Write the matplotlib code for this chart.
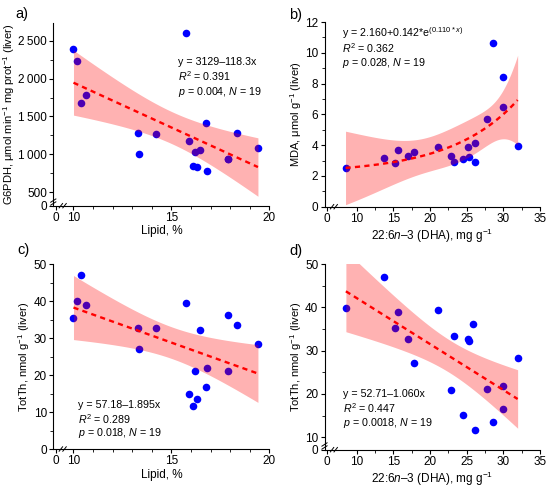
import numpy as np
import matplotlib
matplotlib.use('Agg')
import matplotlib.pyplot as plt
from matplotlib.ticker import FixedLocator

plt.rcParams['font.family'] = ['Liberation Sans', 'DejaVu Sans']
plt.rcParams['mathtext.fontset'] = 'custom'
plt.rcParams['mathtext.rm'] = 'Liberation Sans'
plt.rcParams['mathtext.it'] = 'Liberation Sans:italic'
plt.rcParams['mathtext.bf'] = 'Liberation Sans:bold'
plt.rcParams['axes.linewidth'] = 0.8

# ---------------- data ----------------
# panel a: G6PDH vs lipid
lipid_a = [10.0, 10.17, 10.37, 10.66, 13.31, 13.33, 14.22, 15.73, 15.87, 16.12,
           16.2, 16.32, 16.45, 16.74, 16.79, 17.86, 17.9, 18.33, 19.41]
g6pdh = [2390, 2232, 1674, 1784, 1278, 1001, 1269, 2601, 1173, 847,
         1028, 830, 1058, 1414, 781, 940, 940, 1278, 1085]
# panel b: MDA vs DHA
dha_b = [8.45, 13.64, 15.14, 15.59, 16.95, 17.82, 21.14, 22.86, 23.32, 24.55,
         25.23, 25.36, 26.14, 26.14, 27.77, 28.64, 29.95, 29.95, 31.95]
mda = [2.53, 3.14, 2.84, 3.70, 3.27, 3.55, 3.90, 3.27, 2.88, 3.10,
       3.88, 3.25, 2.88, 4.16, 5.70, 10.61, 8.40, 6.48, 3.94]
# panel c: TotTh vs lipid
lipid_c = [10.0, 10.17, 10.37, 10.66, 13.31, 13.33, 14.22, 15.73, 15.87, 16.2,
           16.12, 16.32, 16.45, 16.74, 16.79, 17.86, 17.9, 18.33, 19.41]
totth_c = [35.3, 39.9, 46.9, 39.0, 32.7, 27.1, 32.7, 39.4, 15.0, 21.0,
           11.5, 13.5, 32.2, 16.7, 21.9, 21.1, 36.1, 33.4, 28.4]
# panel d: TotTh vs DHA
dha_d = [8.5, 13.64, 15.14, 15.59, 16.95, 17.82, 21.14, 22.86, 23.32, 24.55,
         25.23, 25.36, 25.9, 26.14, 27.77, 28.64, 29.95, 29.95, 31.95]
totth_d = [39.8, 46.9, 35.2, 39.0, 32.6, 27.1, 39.4, 21.0, 33.4, 15.1,
           32.6, 32.2, 36.2, 11.6, 21.2, 13.5, 21.9, 16.6, 28.4]

# fitted model coefficients (as printed on the chart)
fit_a = (3129.0, -118.3)
fit_b = (2.160, 0.142, 0.110)
fit_c = (57.18, -1.895)
fit_d = (52.71, -1.060)

eq_a = ["y = 3129\u2013118.3x", "$R^2$ = 0.391", "$p$ = 0.004, $N$ = 19"]
eq_b = ["y = 2.160+0.142*e$^{(0.110*x)}$", "$R^2$ = 0.362", "$p$ = 0.028, $N$ = 19"]
eq_c = ["y = 57.18\u20131.895x", "$R^2$ = 0.289", "$p$ = 0.018, $N$ = 19"]
eq_d = ["y = 52.71\u20131.060x", "$R^2$ = 0.447", "$p$ = 0.0018, $N$ = 19"]

BLUE = '#0000ff'
FS_TICK = 8.5
FS_XL = 8.5
FS_YL = 8.0
FS_EQ = 7.7


def lin_band(x, y, coef, xs, t=2.110):
    x = np.asarray(x, float); y = np.asarray(y, float)
    n = len(x)
    a0, b1 = coef
    res = y - (a0 + b1 * x)
    s = np.sqrt(np.sum(res ** 2) / (n - 2))
    sxx = np.sum((x - x.mean()) ** 2)
    yh = a0 + b1 * xs
    hw = t * s * np.sqrt(1.0 / n + (xs - x.mean()) ** 2 / sxx)
    return yh, yh - hw, yh + hw


def exp_band(x, y, coef, xs, t=2.120):
    x = np.asarray(x, float); y = np.asarray(y, float)
    n = len(x)
    a, b, c = coef
    res = y - (a + b * np.exp(c * x))
    s2 = np.sum(res ** 2) / (n - 3)
    J = np.column_stack([np.ones(n), np.exp(c * x), b * x * np.exp(c * x)])
    cov = s2 * np.linalg.inv(J.T @ J)
    Js = np.column_stack([np.ones_like(xs), np.exp(c * xs), b * xs * np.exp(c * xs)])
    var = np.einsum('ij,jk,ik->i', Js, cov, Js)
    yh = a + b * np.exp(c * xs)
    hw = t * np.sqrt(var)
    return yh, yh - hw, yh + hw


fig = plt.figure(figsize=(5.5, 4.88), dpi=100)
ax_a = fig.add_axes([0.0969, 0.5785, 0.3931, 0.3738])
ax_b = fig.add_axes([0.590, 0.5764, 0.3918, 0.3785])
ax_c = fig.add_axes([0.0969, 0.0799, 0.3931, 0.3791])
ax_d = fig.add_axes([0.590, 0.0785, 0.3918, 0.3805])


def style(ax, xlim, ylim, xticks, xlabels, yticks, ylabels, xminor, yminor, ybreak):
    ax.set_xlim(*xlim); ax.set_ylim(*ylim)
    for s in ('top', 'right'):
        ax.spines[s].set_visible(False)
    ax.xaxis.set_major_locator(FixedLocator(xticks))
    ax.set_xticklabels(xlabels)
    ax.yaxis.set_major_locator(FixedLocator(yticks))
    ax.set_yticklabels(ylabels)
    ax.xaxis.set_minor_locator(FixedLocator(xminor))
    ax.yaxis.set_minor_locator(FixedLocator(yminor))
    ax.tick_params(which='major', length=3, width=0.8, labelsize=FS_TICK, pad=1.5, direction='out')
    ax.tick_params(which='minor', length=2, width=0.6, direction='out')
    # x-axis break marks
    kw = dict(transform=ax.transAxes, color='k', lw=0.7, clip_on=False)
    for xf in (0.035, 0.052):
        ax.plot([xf - 0.008, xf + 0.008], [-0.012, 0.012], **kw)
    if ybreak:
        for yf in (0.012, 0.028):
            ax.plot([-0.012, 0.012], [yf - 0.009, yf + 0.009], **kw)


def draw(ax, x, y, yh, lo, hi, xs):
    ax.scatter(x, y, s=30, color=BLUE, zorder=2, linewidths=0)
    ax.fill_between(xs, lo, hi, color='red', alpha=0.3, linewidth=0, zorder=3)
    ax.plot(xs, yh, color='red', lw=1.7, linestyle=(0, (2.2, 1.8)), zorder=4)


def eqtext(ax, lines, x, y0, dy):
    for i, s in enumerate(lines):
        ax.text(x, y0 - i * dy, s, transform=ax.transAxes, fontsize=FS_EQ, va='center', ha='left')


DHA_LABEL = '22:6$\\it{n}$$\\it{\u2013}$$\\it{3}$ (DHA), mg g$^{-1}$'

# ---- panel a
xs = np.linspace(min(lipid_a), max(lipid_a), 200)
yh, lo, hi = lin_band(lipid_a, g6pdh, fit_a, xs)
draw(ax_a, lipid_a, g6pdh, yh, lo, hi, xs)
style(ax_a, (8.97, 20), (323, 2730), [9.12, 10, 15, 20], ['0', '10', '15', '20'],
      [323, 500, 1000, 1500, 2000, 2500], ['0', '500', '1\u2009000', '1\u2009500', '2\u2009000', '2\u2009500'],
      [11, 12, 13, 14, 16, 17, 18, 19], [750, 1250, 1750, 2250], True)
ax_a.set_xlabel('Lipid, %', fontsize=FS_XL, labelpad=1)
ax_a.set_ylabel('G6PDH, \u03bcmol min$^{-1}$ mg prot$^{-1}$ (liver)', fontsize=FS_YL, labelpad=1)
eqtext(ax_a, eq_a, 0.575, 0.79, 0.082)

# ---- panel b
xs = np.linspace(min(dha_b), max(dha_b), 200)
yh, lo, hi = exp_band(dha_b, mda, fit_b, xs)
draw(ax_b, dha_b, mda, yh, lo, hi, xs)
style(ax_b, (5.58, 35), (0, 12), [5.9, 10, 15, 20, 25, 30, 35], ['0', '10', '15', '20', '25', '30', '35'],
      [0, 2, 4, 6, 8, 10, 12], ['0', '2', '4', '6', '8', '10', '12'],
      [12.5, 17.5, 22.5, 27.5, 32.5], [1, 3, 5, 7, 9, 11], False)
ax_b.set_xlabel(DHA_LABEL, fontsize=FS_XL, labelpad=1)
ax_b.set_ylabel('MDA, \u03bcmol g$^{-1}$ (liver)', fontsize=FS_YL, labelpad=1)
eqtext(ax_b, eq_b, 0.08, 0.94, 0.08)

# ---- panel c
xs = np.linspace(min(lipid_c), max(lipid_c), 200)
yh, lo, hi = lin_band(lipid_c, totth_c, fit_c, xs)
draw(ax_c, lipid_c, totth_c, yh, lo, hi, xs)
style(ax_c, (8.97, 20), (0, 50), [9.12, 10, 15, 20], ['0', '10', '15', '20'],
      [0, 10, 20, 30, 40, 50], ['0', '10', '20', '30', '40', '50'],
      [11, 12, 13, 14, 16, 17, 18, 19], [5, 15, 25, 35, 45], False)
ax_c.set_xlabel('Lipid, %', fontsize=FS_XL, labelpad=1)
ax_c.set_ylabel('TotTh, nmol g$^{-1}$ (liver)', fontsize=FS_YL, labelpad=1)
eqtext(ax_c, eq_c, 0.115, 0.24, 0.078)

# ---- panel d
xs = np.linspace(min(dha_d), max(dha_d), 200)
yh, lo, hi = lin_band(dha_d, totth_d, fit_d, xs)
draw(ax_d, dha_d, totth_d, yh, lo, hi, xs)
style(ax_d, (5.58, 35), (7.14, 50), [5.9, 10, 15, 20, 25, 30, 35], ['0', '10', '15', '20', '25', '30', '35'],
      [7.14, 10, 20, 30, 40, 50], ['0', '10', '20', '30', '40', '50'],
      [12.5, 17.5, 22.5, 27.5, 32.5], [15, 25, 35, 45], True)
ax_d.set_xlabel(DHA_LABEL, fontsize=FS_XL, labelpad=1)
ax_d.set_ylabel('TotTh, nmol g$^{-1}$ (liver)', fontsize=FS_YL, labelpad=1)
eqtext(ax_d, eq_d, 0.085, 0.30, 0.078)

# panel letters
for s, (px, py) in zip(['a)', 'b)', 'c)', 'd)'], [(22, 14), (296, 15), (23, 250), (296, 251)]):
    fig.text(px / 550, 1 - py / 488, s, fontsize=10.5, ha='center', va='center')

fig.savefig('out.png', dpi=100)
